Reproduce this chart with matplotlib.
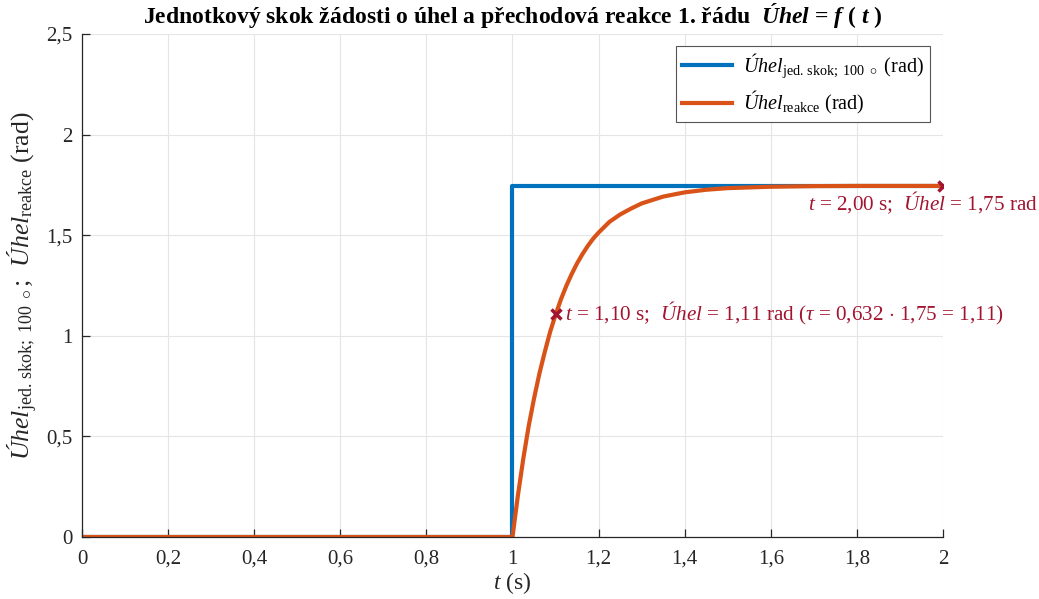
import matplotlib
matplotlib.use('Agg')
import matplotlib.pyplot as plt
from matplotlib.ticker import FuncFormatter

plt.rcParams['font.family'] = 'Liberation Serif'
plt.rcParams['mathtext.fontset'] = 'custom'
plt.rcParams['mathtext.rm'] = 'Liberation Serif'
plt.rcParams['mathtext.it'] = 'Liberation Serif:italic'
plt.rcParams['mathtext.bf'] = 'Liberation Serif:bold'
plt.rcParams['mathtext.bfit'] = 'Liberation Serif:bold:italic'

# step request (blue)
t_step = [0, 1.0, 1.0, 2.0]
u_step = [0, 0, 1.745, 1.745]

# first order response (orange)
t_resp = [0, 1.0, 1.0125, 1.025, 1.0375, 1.05, 1.0625, 1.075, 1.0875, 1.10,
          1.1125, 1.125, 1.1375, 1.15, 1.1625, 1.175, 1.1875, 1.20, 1.225,
          1.25, 1.275, 1.30, 1.35, 1.40, 1.45, 1.50, 1.60, 1.70, 1.80, 2.0]
u_resp = [0, 0, 0.205, 0.388, 0.550, 0.688, 0.812, 0.920, 1.02, 1.104,
          1.181, 1.248, 1.307, 1.360, 1.406, 1.447, 1.483, 1.513, 1.566,
          1.603, 1.632, 1.658, 1.692, 1.713, 1.726, 1.734, 1.741, 1.744, 1.745, 1.745]

# marked points
mark_t = [1.10, 2.00]
mark_u = [1.11, 1.745]
mark_txt = [r'$t$ = 1,10 s;  $\mathit{Úhel}$ = 1,11 rad ($\tau$ = 0,632 $\cdot$ 1,75 = 1,11)',
            r'$t$ = 2,00 s;  $\mathit{Úhel}$ = 1,75 rad']

blue = '#0072BD'
orange = '#D95319'
red = '#A2142F'
dark = '#262626'

fig = plt.figure(figsize=(10.39, 5.99), dpi=100)
ax = fig.add_axes([0.0789, 0.1035, 0.8287, 0.8397])

ax.plot(t_step, u_step, color=blue, lw=3,
        label=r'$\mathit{Úhel}_{\mathrm{jed.\,skok;\ 100\ \circ}}$ (rad)')
ax.plot(t_resp, u_resp, color=orange, lw=3,
        label=r'$\mathit{Úhel}_{\mathrm{reakce}}$ (rad)')

ax.plot(mark_t, mark_u, 'x', color=red, ms=7, mew=2.5, zorder=5)
ax.annotate(mark_txt[0], (mark_t[0], mark_u[0]), xytext=(9, 0),
            textcoords='offset pixels', ha='left', va='center',
            color=red, fontsize=15.2)
ax.annotate(mark_txt[1], (mark_t[1], mark_u[1]), xytext=(95, -17),
            textcoords='offset pixels', ha='right', va='center',
            color=red, fontsize=15.2, annotation_clip=False)

ax.set_xlim(0, 2)
ax.set_ylim(0, 2.5)
ax.set_xticks([0, 0.2, 0.4, 0.6, 0.8, 1, 1.2, 1.4, 1.6, 1.8, 2])
ax.set_yticks([0, 0.5, 1, 1.5, 2, 2.5])
fmt = FuncFormatter(lambda v, p: f'{v:g}'.replace('.', ','))
ax.xaxis.set_major_formatter(fmt)
ax.yaxis.set_major_formatter(fmt)

ax.grid(True, color='#e5e5e5', lw=0.8)
ax.set_axisbelow(True)
for s in ['top', 'right']:
    ax.spines[s].set_visible(False)
for s in ['left', 'bottom']:
    ax.spines[s].set_color(dark)
    ax.spines[s].set_linewidth(0.9)
ax.tick_params(direction='in', length=6, width=0.9, color=dark,
               labelsize=15, labelcolor=dark)
ax.tick_params(axis='x', pad=9)
ax.tick_params(axis='y', pad=7)

ax.set_xlabel(r'$t$ (s)', fontsize=17, color=dark, labelpad=1)
ax.set_ylabel(r'$\mathit{Úhel}_{\mathrm{jed.\,skok;\ 100\ \circ}}$;  '
              r'$\mathit{Úhel}_{\mathrm{reakce}}$ (rad)',
              fontsize=18.5, color=dark, labelpad=4)
ax.set_title(r'Jednotkový skok žádosti o úhel a přechodová reakce 1. řádu  '
             r'$\mathbfit{Úhel}$ = $\mathbfit{f}$ ( $\mathbfit{t}$ )',
             fontsize=17, fontweight='bold', pad=8)

leg = ax.legend(loc='upper right', bbox_to_anchor=(0.985, 0.977),
                borderaxespad=0, fontsize=14.5, frameon=True, fancybox=False,
                edgecolor='#555555', framealpha=1, handlelength=2.5,
                borderpad=0.3, labelspacing=0.45, handletextpad=0.55)
leg.get_frame().set_linewidth(0.8)

fig.savefig('out.png', dpi=100)
